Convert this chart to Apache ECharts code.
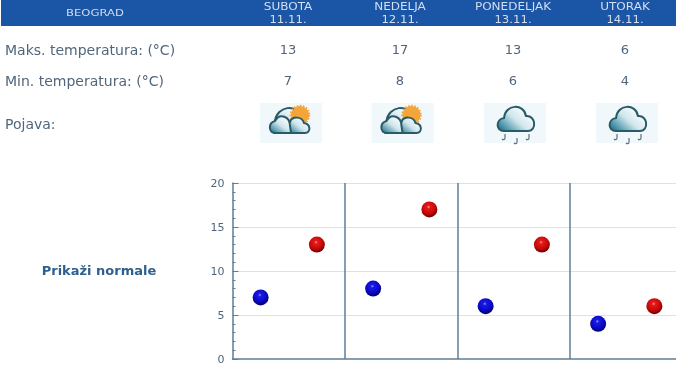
<!DOCTYPE html>
<html><head><meta charset="utf-8">
<style>html,body{margin:0;padding:0;background:#fff;overflow:hidden}#c{width:676px;height:380px;filter:blur(0.35px)}</style>
<script src="https://cdn.jsdelivr.net/npm/echarts@6/dist/echarts.min.js"></script>
</head><body><div id="c"></div>
<script>
const city = 'BEOGRAD';
const days = ['SUBOTA','NEDELJA','PONEDELJAK','UTORAK'];
const dates = ['11.11.','12.11.','13.11.','14.11.'];
const maxTemps = [13,17,13,6];
const minTemps = [7,8,6,4];
const weather = ['partly','partly','rain','rain'];
const rowLabels = ['Maks. temperatura: (°C)','Min. temperatura: (°C)','Pojava:'];
const normalsLabel = 'Prikaži normale';

const FONT = '"DejaVu Sans", sans-serif';
const TXT = '#51667c';
const colX = [288,400,513,625];
const boxX = [260,371.5,484,596];

function reg(name,d){ echarts.graphic.registerShape(name, echarts.graphic.extendPath(d,{})); }
reg('cloudBack','M14 30 L15 18 C17 3 37 0 41 14 L41 30 Z');
reg('cloudFront','M32 30 C26 30 26 20 30 19 C32 13 42 13 44 20 C51 21 51 30 45 30 Z');
reg('cloudLeft','M16 30 C8 30 8 20 15 18 C20 9 30 14 30 23 L31 30 Z');
reg('cloudRain','M20 28 C11 28 12 16 20 15 C21 1 40 0 42 13 C52 12 53 28 44 28 Z');
reg('drop','M3 0 L3 4 C3 6 1 6 0 5');

function ballColor(hi, mid, deep, lo){
  return {type:'radial',x:0.45,y:0.35,r:0.7,colorStops:[{offset:0,color:hi},{offset:0.15,color:mid},{offset:0.6,color:deep},{offset:1,color:lo}]};
}
function t(x,y,text,size,fill,extra,scaleX){
  return {type:'text',x,y,scaleX:scaleX||1,silent:true,style:Object.assign({text,fontFamily:FONT,fontSize:size,fill,align:'center',verticalAlign:'middle'},extra||{})};
}
const cloudFill = {type:'linear',x:0.7,y:0,x2:0.1,y2:1,colorStops:[{offset:0,color:'#ffffff'},{offset:0.45,color:'#cfe6ec'},{offset:1,color:'#0f6f88'}]};
function icon(kind,x){
  const kids = [{type:'rect',shape:{x:0,y:0,width:62,height:40},style:{fill:'#f1f8fb'}}];
  const cs = {stroke:'#2a5a68',lineWidth:2,fill:cloudFill};
  if(kind==='partly'){
    kids.push({type:'cloudBack',style:cs});
    kids.push({type:'circle',shape:{cx:40,cy:12,r:9},style:{fill:'#f4a53a',stroke:'#f4a53a',lineWidth:2.5,lineDash:[1.5,1.5]}});
    kids.push({type:'cloudFront',style:cs});
    kids.push({type:'cloudLeft',style:cs});
  } else {
    kids.push({type:'cloudRain',style:cs});
    [[18,31],[30,35],[42,31]].forEach(function(d){
      kids.push({type:'drop',x:d[0],y:d[1],style:{stroke:'#5c7078',lineWidth:1.2,fill:null}});
    });
  }
  return {type:'group',x:x,y:103,silent:true,children:kids};
}

const g = [
  {type:'rect',shape:{x:1,y:0,width:675,height:26},style:{fill:'#1b55a5'},silent:true},
  t(95,13.5,city,9.5,'#d3deee',null,1.22)
];
days.forEach(function(d,i){
  g.push(t(colX[i],7,d,10,'#d3deee',null,1.2));
  g.push(t(colX[i],20,dates[i],10,'#d3deee',null,1.17));
  g.push(t(colX[i],51,String(maxTemps[i]),13,TXT));
  g.push(t(colX[i],82,String(minTemps[i]),13,TXT));
  g.push(icon(weather[i],boxX[i]));
});
[51,82,125].forEach(function(y,i){ g.push(t(5,y,rowLabels[i],14,TXT,{align:'left'})); });
g.push(t(99,272,normalsLabel,13,'#2e5f8e',{fontWeight:'bold'}));

const chart = echarts.init(document.getElementById('c'),null,{renderer:'canvas'});
chart.setOption({
  animation:false,
  backgroundColor:'#fff',
  grid:{left:232.5,top:183,width:450,height:176,containLabel:false,outerBoundsMode:'none'},
  xAxis:{type:'value',min:0,max:4,interval:1,
    axisLine:{show:true,onZero:false,lineStyle:{color:'#5f7d97',width:1.5}},
    axisTick:{show:false},axisLabel:{show:false},
    splitLine:{show:true,showMinLine:false,showMaxLine:false,lineStyle:{color:'#5f7d97',width:1.5}}},
  yAxis:{type:'value',min:0,max:20,interval:5,
    axisLine:{show:true,lineStyle:{color:'#5f7d97',width:1.5}},
    axisTick:{show:true,inside:true,length:6,lineStyle:{color:'#5f7d97'}},
    minorTick:{show:true,splitNumber:5,length:3,lineStyle:{color:'#5f7d97'}},
    axisLabel:{margin:8,formatter:'{a|{value}}',rich:{a:{fontFamily:FONT,fontSize:11,color:TXT,padding:[3,0,0,0]}}},
    splitLine:{show:true,showMinLine:false,lineStyle:{color:'#dde2e6',width:1}}},
  series:[
    {type:'scatter',name:'Min',symbolSize:16,z:3,
     itemStyle:{opacity:1,color:ballColor('#9a9aff','#1a1ae6','#0808c4','#00005a')},
     data:minTemps.map(function(v,i){return [i+0.25,v];})},
    {type:'scatter',name:'Max',symbolSize:16,z:3,
     itemStyle:{opacity:1,color:ballColor('#ff9a9a','#e61a1a','#c40808','#5a0000')},
     data:maxTemps.map(function(v,i){return [i+0.75,v];})}
  ],
  graphic:g
});
</script></body></html>
